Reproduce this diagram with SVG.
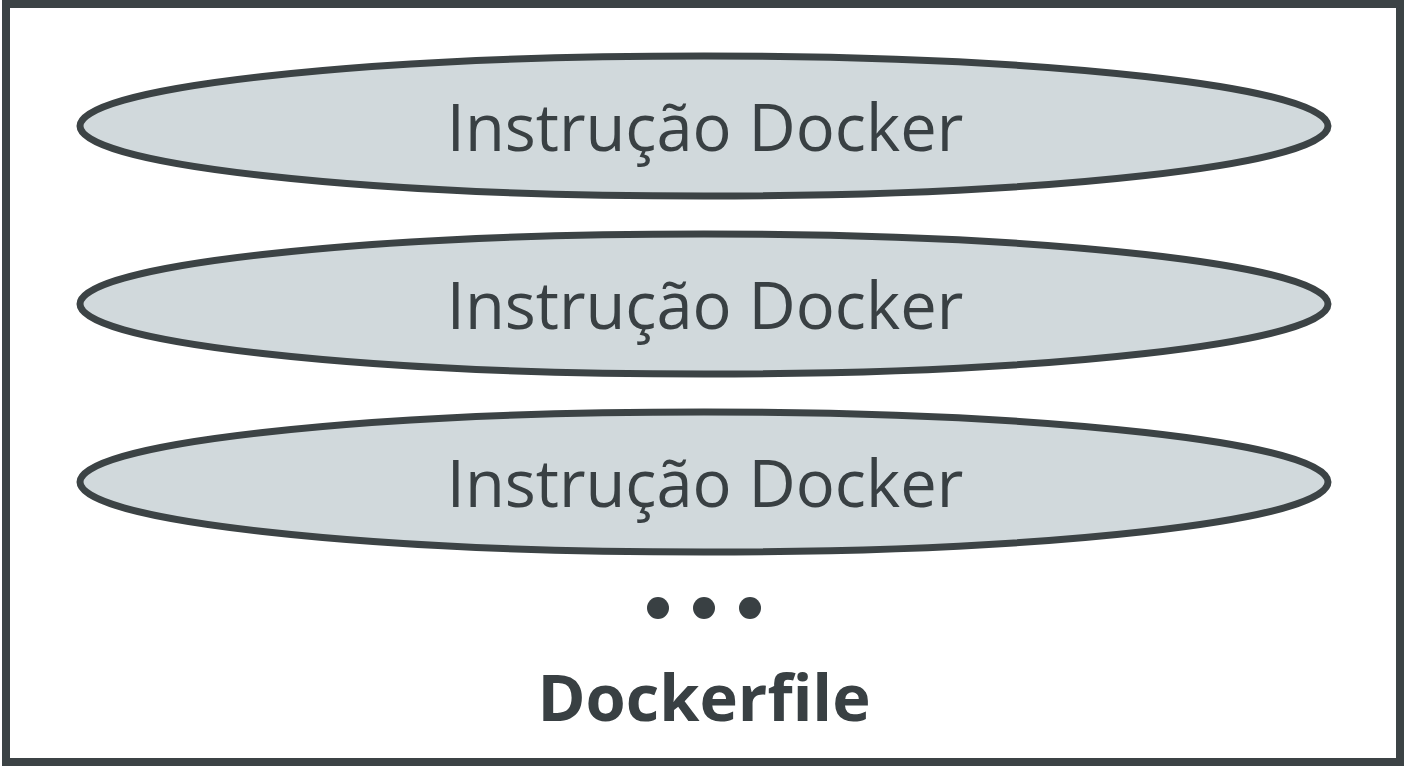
<svg xmlns="http://www.w3.org/2000/svg" width="1408" height="768" viewBox="0 0 1408 768">
<style>
.e{fill:#d1d9dc;stroke:#3c4345;stroke-width:7}
.t{font-family:"Open Sans",sans-serif;font-size:65px;fill:#394043;text-anchor:middle}
.b{font-family:"Open Sans",sans-serif;font-size:65px;font-weight:bold;fill:#394043;text-anchor:middle}
</style>
<rect x="0" y="0" width="1408" height="768" fill="#fff"/>
<rect id="dockerfile" x="6" y="4" width="1394" height="758" fill="#fff" stroke="#3c4345" stroke-width="8"/>
<g id="n1"><ellipse class="e" cx="704" cy="126" rx="624" ry="70"/><text class="t" x="705" y="151">Instrução Docker</text></g>
<g id="n2"><ellipse class="e" cx="704" cy="304" rx="624" ry="70"/><text class="t" x="705" y="329">Instrução Docker</text></g>
<g id="n3"><ellipse class="e" cx="704" cy="482" rx="624" ry="70"/><text class="t" x="705" y="507">Instrução Docker</text></g>
<g id="dots" fill="#394043"><circle cx="658" cy="608" r="11"/><circle cx="704" cy="608" r="11"/><circle cx="750" cy="608" r="11"/></g>
<g id="connectors"/>
<text class="b" x="704" y="721">Dockerfile</text>
</svg>
